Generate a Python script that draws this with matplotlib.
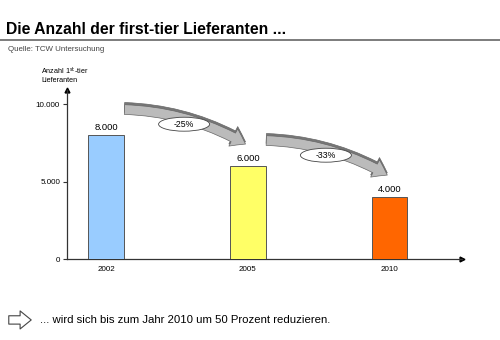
import matplotlib
matplotlib.use("Agg")
import matplotlib.pyplot as plt
from matplotlib.patches import FancyArrowPatch, Ellipse

# Daten
jahre = ["2002", "2005", "2010"]
lieferanten = [8000, 6000, 4000]
farben = ["#99CCFF", "#FFFF66", "#FF6600"]
y_ticks = [0, 5000, 10000]


def fmt(v):
    return f"{v:,.0f}".replace(",", ".")


plt.rcParams["font.family"] = ["Liberation Sans", "DejaVu Sans"]

fig = plt.figure(figsize=(5, 3.4), dpi=100)
fig.patch.set_facecolor("white")

# Kopfzeile
fig.text(0.012, 0.912, "Die Anzahl der first-tier Lieferanten ...", fontsize=11.3,
         fontweight="bold", va="center", ha="left")
fig.add_artist(plt.Line2D([0, 1], [0.882, 0.882], color="#666666", lw=1.2))
fig.text(0.016, 0.853, "Quelle: TCW Untersuchung", fontsize=5.7, color="#444444",
         va="center", ha="left")

# Diagramm
ax = fig.add_axes([0.134, 0.238, 0.79, 0.497])
x = range(len(jahre))
ax.bar(x, lieferanten, width=0.25, color=farben, edgecolor="#555555", linewidth=0.7, zorder=3)
for xi, v in zip(x, lieferanten):
    ax.text(xi, v + 200, fmt(v), ha="center", va="bottom", fontsize=6.8)

ax.set_xlim(-0.276, 2.51)
ax.set_ylim(0, 10900)
ax.set_xticks(list(x))
ax.set_xticklabels(jahre, fontsize=5.8)
ax.set_yticks(y_ticks)
ax.set_yticklabels([fmt(t) for t in y_ticks], fontsize=5.8)
ax.tick_params(axis="x", length=0, pad=5)
ax.tick_params(axis="y", length=3, width=0.8, color="#333333", pad=2)
for s in ["top", "right"]:
    ax.spines[s].set_visible(False)
for s in ["left", "bottom"]:
    ax.spines[s].set_color("#333333")
    ax.spines[s].set_linewidth(0.9)
ax.plot(0, 1, "^", color="black", ms=3.5, transform=ax.transAxes, clip_on=False)
ax.plot(1, 0, ">", color="black", ms=3.5, transform=ax.transAxes, clip_on=False)

fig.text(0.082, 0.752, "Anzahl 1$^{\\mathrm{st}}$-tier\nLieferanten", fontsize=5.2,
         ha="left", va="bottom", linespacing=1.15)

# Pfeile zwischen den Balken
for i in range(len(lieferanten) - 1):
    v0, v1 = lieferanten[i], lieferanten[i + 1]
    start = (i + 0.11, v0 + 1650)
    ende = (i + 1.0, v1 + 1330)
    for dx, dy, col, z in [(0.0, 140, "#777777", 4), (0, 0, "#BBBBBB", 5)]:
        pfeil = FancyArrowPatch((start[0] + dx, start[1] + dy), (ende[0] + dx, ende[1] + dy),
                                arrowstyle="simple,head_width=14,head_length=10,tail_width=7",
                                connectionstyle="arc3,rad=-0.13", fc=col, ec="#666666",
                                lw=0.5, zorder=z, clip_on=False)
        ax.add_patch(pfeil)
    mx = i + 0.55
    my = (v0 + v1) / 2 + 1700
    ax.add_patch(Ellipse((mx, my), 0.36, 900, fc="white", ec="#444444", lw=0.6,
                         zorder=6, clip_on=False))
    pct = round((v1 - v0) / v0 * 100)
    ax.text(mx, my, f"{pct}%", ha="center", va="center", fontsize=6.3, zorder=7)

# Fusszeile
fuss = FancyArrowPatch((0.012, 0.059), (0.068, 0.059), transform=fig.transFigure,
                       arrowstyle="simple,head_width=13,head_length=8,tail_width=6",
                       fc="white", ec="#444444", lw=0.8)
fig.add_artist(fuss)
fig.text(0.08, 0.059, "... wird sich bis zum Jahr 2010 um 50 Prozent reduzieren.",
         fontsize=8.2, ha="left", va="center")

fig.savefig("out.png", dpi=100)
